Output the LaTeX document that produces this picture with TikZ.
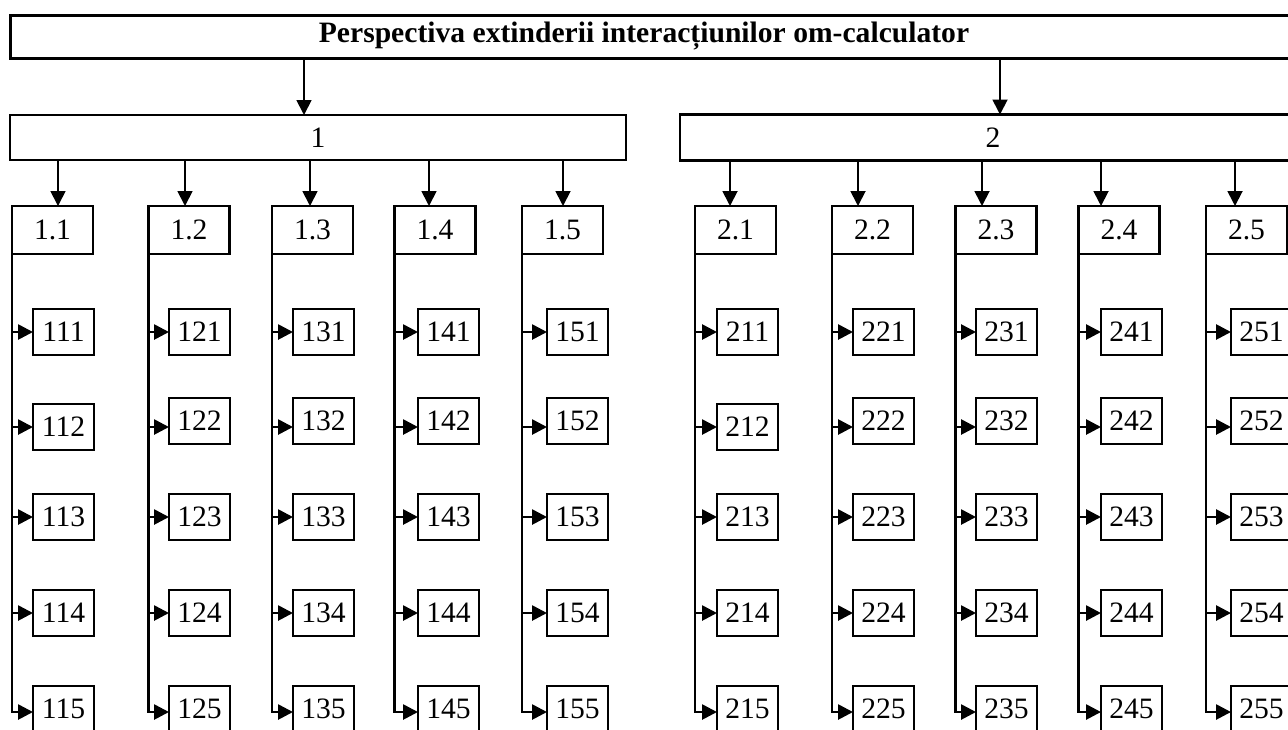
\documentclass[tikz,border=0pt]{standalone}
\usepackage{fontspec}
\setmainfont{Liberation Serif}
\usetikzlibrary{arrows.meta,calc}
\begin{document}
\begin{tikzpicture}[x=0.5pt,y=-0.5pt,
  box/.style={draw,line width=1.1pt,inner sep=0pt,outer sep=0pt,font=\fontsize{14.8}{17}\selectfont},
  subbox/.style={box,minimum width=40.5pt,minimum height=24pt},
  leaf/.style={box,minimum width=30.5pt,minimum height=23pt},
  arr/.style={line width=0.9pt,-{Triangle[length=7.5pt,width=7.5pt]}},
  larr/.style={line width=1.35pt,-{Triangle[length=7.5pt,width=7.5pt]}}]
\useasboundingbox (0,0) rectangle (1288,729);
\clip (0,0) rectangle (1288,729);
% top level
\node[box,line width=1.5pt,minimum width=655pt,minimum height=21.5pt] (top) at (665,36.5) {};
\node[font=\bfseries\fontsize{14.8}{17}\selectfont,inner sep=0pt] (title) at (644,36.5) {Perspectiva extinderii interacțiunilor om-calculator};
\node[box,line width=1.2pt,minimum width=308pt,minimum height=22.5pt] (b1) at (318,137.5) {1};
\node[box,line width=1.2pt,minimum width=313pt,minimum height=23pt] (b2) at (993,137.5) {2};
\coordinate (a1) at (304,0);
\coordinate (a2) at (1000,0);
\draw[arr] (top.south -| a1) -- (b1.north -| a1);
\draw[arr] (top.south -| a2) -- (b2.north -| a2);
% row levels
\coordinate (r1) at (0,332);
\coordinate (r2) at (0,427);
\coordinate (r3) at (0,517);
\coordinate (r4) at (0,613);
\coordinate (r5) at (0,712);
% columns
\foreach \p/\n/\t/\sx/\ax/\lx/\rt in {
  b1/11/1.1/52.5/58/33/427, b1/12/1.2/189/185/169/421, b1/13/1.3/312.5/310/293/421,
  b1/14/1.4/435/429/418/421, b1/15/1.5/562.5/563/547/421,
  b2/21/2.1/735.5/730/717/427, b2/22/2.2/872.5/858/853/421, b2/23/2.3/996/982/976/421,
  b2/24/2.4/1119/1101/1101/421, b2/25/2.5/1246.5/1235/1231/421}{
  \node[subbox] (s\n) at (\sx,230) {\t};
  \coordinate (ax\n) at (\ax,0);
  \draw[arr] (\p.south -| ax\n) -- (s\n.north -| ax\n);
  \node[leaf] (l\n1) at (\lx+30.5,332) {\n1};
  \node[leaf] (l\n2) at (\lx+30.5,\rt) {\n2};
  \node[leaf] (l\n3) at (\lx+30.5,517) {\n3};
  \node[leaf] (l\n4) at (\lx+30.5,613) {\n4};
  \node[leaf] (l\n5) at (\lx+30.5,709) {\n5};
  \draw[larr] (s\n.south west |- r1) -- (l\n1.west |- r1);
  \draw[larr] (s\n.south west |- r2) -- (l\n2.west |- r2);
  \draw[larr] (s\n.south west |- r3) -- (l\n3.west |- r3);
  \draw[larr] (s\n.south west |- r4) -- (l\n4.west |- r4);
  \draw[larr] (s\n.south west) -- (s\n.south west |- r5) -- (l\n5.west |- r5);
}
\end{tikzpicture}
\end{document}
